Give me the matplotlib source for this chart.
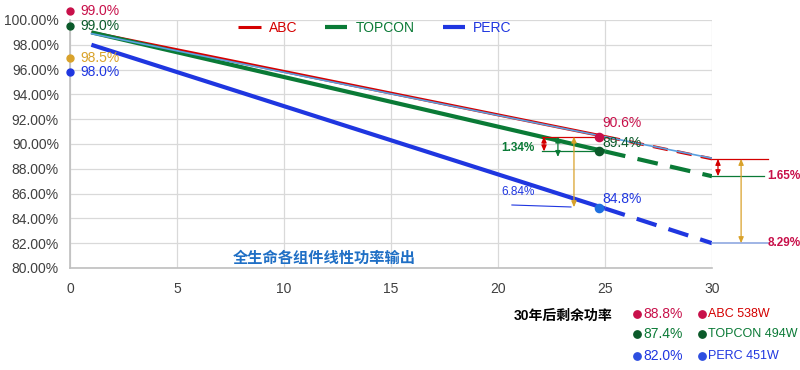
import matplotlib.pyplot as plt

plt.rcParams['font.family'] = ['Liberation Sans', 'Noto Sans CJK SC', 'DejaVu Sans']

# 数据
years = [1, 25, 30]
abc = [99.0, 90.6, 88.8]
topcon = [99.0, 89.4, 87.4]
perc = [98.0, 84.8, 82.0]
ref_line = [98.9, 88.85]          # 浅蓝细线 (第1年, 第30年)
marker_year = 24.7

start_labels = ['99.0%', '99.0%', '98.5%', '98.0%']
start_label_y = [100.73, 99.52, 96.94, 95.8]
end_labels = ['88.8%', '87.4%', '82.0%']
module_labels = ['ABC 538W', 'TOPCON 494W', 'PERC 451W']

RED = '#d40000'
CRIMSON = '#c8104a'
GREEN = '#0a7a36'
DKGREEN = '#0b5a2a'
BLUE = '#1f36e0'
GOLD = '#d9a22a'
LBLUE = '#5aa0e0'

fig = plt.figure(figsize=(8, 3.7), dpi=100)
ax = fig.add_axes([0.0875, 0.2757, 0.8025, 0.6703])

# 实线 (第1-25年) + 虚线 (25-30年)
for vals, c, lw, lab in [(abc, RED, 2.2, 'ABC'), (topcon, GREEN, 3, 'TOPCON'), (perc, BLUE, 3, 'PERC')]:
    ax.plot(years[:2], vals[:2], color=c, lw=lw, label=lab, solid_capstyle='butt')
    ax.plot(years[1:], vals[1:], color=c, lw=lw, ls=(0, (5, 3)))
ax.plot([years[0], years[-1]], ref_line, color=LBLUE, lw=1.2)

# 第25年的点
ax.scatter([marker_year], [abc[1]], color=CRIMSON, s=35, zorder=5)
ax.scatter([marker_year], [topcon[1]], color=DKGREEN, s=35, zorder=5)
ax.scatter([marker_year], [perc[1]], color='#1e6fe0', s=35, zorder=5)
ax.text(24.9, 91.35, f'{abc[1]}%', color=CRIMSON, fontsize=10)
ax.text(24.9, 89.75, f'{topcon[1]}%', color=DKGREEN, fontsize=10)
ax.text(24.9, 85.25, f'{perc[1]}%', color=BLUE, fontsize=10)

# 左侧起点标注
for lab, yy, c in zip(start_labels, start_label_y, [CRIMSON, DKGREEN, GOLD, BLUE]):
    ax.scatter([0], [yy], color=c, s=25, clip_on=False, zorder=6)
    ax.text(0.5, yy, lab, color=c, fontsize=10, va='center', clip_on=False)

arr = '<|-|>,head_length=0.35,head_width=0.15'


def gap_arrow(x, y0, y1, c):
    ax.annotate('', xy=(x, y1), xytext=(x, y0), annotation_clip=False,
                arrowprops=dict(arrowstyle=arr, color=c, lw=0.9, shrinkA=0, shrinkB=0))


# 第25年差值标注
ax.plot([22.06, 24.67], [abc[1], abc[1]], color=RED, lw=0.9)
ax.plot([22.06, 24.67], [topcon[1], topcon[1]], color=GREEN, lw=0.9)
ax.plot([20.65, 23.41], [85.08, 84.92], color=BLUE, lw=0.8)
gap_arrow(22.15, abc[1], topcon[1], RED)
gap_arrow(22.8, abc[1], 88.95, GREEN)
gap_arrow(23.55, abc[1], 84.9, GOLD)
ax.text(21.7, 89.7, '1.34%', color=GREEN, fontsize=8.5, fontweight='bold', ha='right', va='center')
ax.text(21.7, 86.1, '6.84%', color=BLUE, fontsize=8.5, ha='right', va='center')

# 第30年差值标注
ax.plot([30, 32.6], [abc[2], abc[2]], color=RED, lw=0.9, clip_on=False)
ax.plot([30, 32.45], [topcon[2], topcon[2]], color=GREEN, lw=0.9, clip_on=False)
ax.plot([30, 32.6], [perc[2], perc[2]], color='#8fa8e0', lw=1.2, clip_on=False)
gap_arrow(30.28, abc[2], topcon[2], RED)
gap_arrow(31.36, abc[2], perc[2], GOLD)
ax.text(32.6, 87.45, '1.65%', color=CRIMSON, fontsize=8.5, fontweight='bold', va='center')
ax.text(32.6, 82.0, '8.29%', color=CRIMSON, fontsize=8.5, fontweight='bold', va='center')

ax.text(11.9, 80.75, '全生命各组件线性功率输出', color='#1f6fc5', fontsize=11,
        fontweight='bold', ha='center', va='center')

# 坐标轴
ax.set_xlim(0, 30)
ax.set_ylim(80, 100)
ax.set_xticks(range(0, 31, 5))
ax.set_yticks(range(80, 101, 2))
ax.set_yticklabels([f'{v:.2f}%' for v in range(80, 101, 2)])
ax.tick_params(length=0, labelsize=10, colors='#404040', pad=8)
ax.tick_params(axis='x', pad=10)
ax.grid(True, color='#d9d9d9', lw=0.9)
ax.set_axisbelow(True)
for s in ['top', 'right']:
    ax.spines[s].set_visible(False)
for s in ['left', 'bottom']:
    ax.spines[s].set_color('#bfbfbf')
    ax.spines[s].set_linewidth(1.2)

ax.legend(loc='upper center', bbox_to_anchor=(0.475, 1.045), ncol=3, frameon=False,
          fontsize=10, handlelength=1.6, columnspacing=2.0, labelcolor='linecolor',
          handletextpad=0.6)

# 右下角: 30年后剩余功率
fig.text(612 / 800, 1 - 316 / 370, '30年后剩余功率', fontsize=10, fontweight='bold',
         ha='right', va='center')
row_y = [314, 334, 356]
dot_cols = [CRIMSON, DKGREEN, '#2d4ee0']
txt_cols = [CRIMSON, GREEN, BLUE]
mod_cols = [RED, GREEN, BLUE]
for i in range(3):
    yy = 1 - row_y[i] / 370
    ax.scatter([637 / 800, 702 / 800], [yy, yy], s=28, color=dot_cols[i],
               transform=fig.transFigure, clip_on=False)
    fig.text(643 / 800, yy, end_labels[i], color=txt_cols[i], fontsize=10, va='center')
    fig.text(708 / 800, yy, module_labels[i], color=mod_cols[i], fontsize=9, va='center')

fig.savefig('out.png', dpi=100)
